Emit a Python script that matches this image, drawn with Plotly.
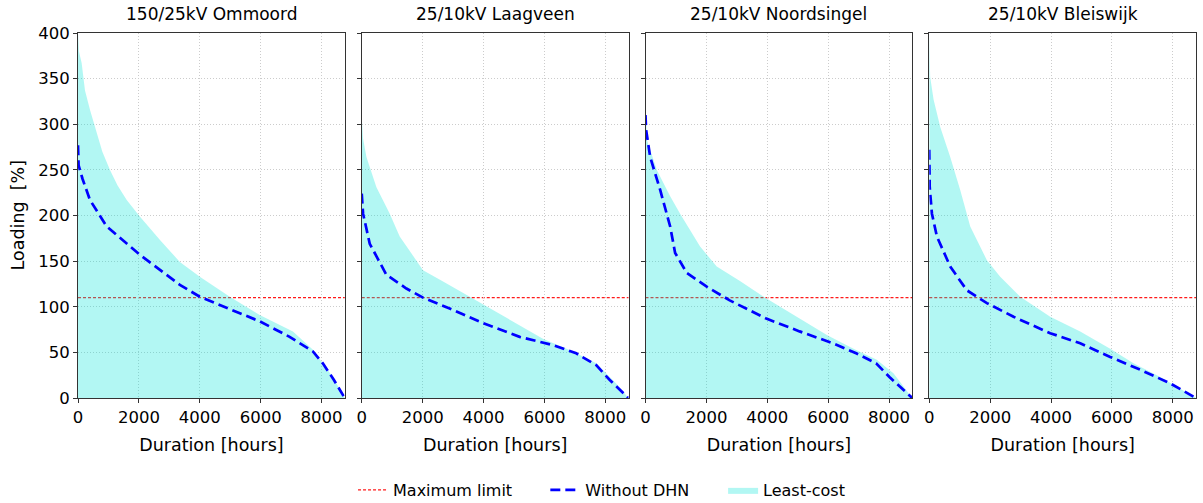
import plotly.graph_objects as go
from plotly.subplots import make_subplots

# ---------------- data ----------------
substations = ["150/25kV Ommoord", "25/10kV Laagveen", "25/10kV Noordsingel", "25/10kV Bleiswijk"]
LIMIT = 110
HOURS = 8760

lc_x_ommoord = [0, 30, 120, 230, 400, 613, 800, 1050, 1300, 1600, 2030, 2700, 3345, 4000, 4985, 5967, 7060, 7715, 8370, 8760]
lc_y_ommoord = [400, 380, 367, 337, 315, 290, 270, 250, 233, 217, 199, 173, 149, 133, 111, 91, 73, 53, 23, 0]
wo_x_ommoord = [0, 20, 150, 393, 940, 2030, 3345, 4000, 5090, 5967, 6950, 7715, 8040, 8400, 8760]
wo_y_ommoord = [277, 255, 240, 217, 188, 157, 124, 111, 96, 84, 67, 51, 38, 20, 0]

lc_x_laagveen = [0, 40, 154, 482, 920, 1247, 1600, 2012, 2700, 3435, 3981, 4965, 5950, 6935, 7700, 8355, 8760]
lc_y_laagveen = [308, 285, 264, 231, 202, 177, 160, 140, 127, 113, 102, 84, 65, 51, 38, 16, 0]
wo_x_laagveen = [0, 44, 263, 810, 1466, 2012, 2887, 3981, 5184, 6277, 7043, 7700, 8137, 8760]
wo_y_laagveen = [224, 202, 169, 135, 120, 110, 98, 82, 67, 58, 49, 36, 20, 0]

lc_x_noord = [0, 44, 372, 810, 1137, 1793, 2339, 3115, 3880, 4863, 5956, 6830, 7595, 8142, 8760]
lc_y_noord = [327, 283, 250, 221, 202, 166, 144, 128, 111, 91, 69, 54, 42, 27, 0]
wo_x_noord = [0, 20, 154, 482, 810, 973, 1356, 2011, 2765, 3967, 5060, 6153, 6918, 7574, 8011, 8760]
wo_y_noord = [310, 294, 264, 228, 188, 159, 137, 122, 107, 87, 73, 60, 49, 38, 23, 0]

lc_x_bleis = [0, 30, 142, 361, 689, 1017, 1346, 1893, 2331, 2987, 3972, 4957, 5942, 6708, 7585, 8760]
lc_y_bleis = [400, 352, 327, 297, 264, 228, 188, 151, 133, 111, 89, 73, 54, 38, 23, 0]
wo_x_bleis = [0, 15, 88, 252, 689, 1236, 1893, 2768, 3972, 4957, 5942, 6927, 7912, 8760]
wo_y_bleis = [272, 231, 202, 177, 144, 118, 104, 89, 71, 60, 45, 31, 16, 0]

least_cost = [(lc_x_ommoord, lc_y_ommoord), (lc_x_laagveen, lc_y_laagveen),
              (lc_x_noord, lc_y_noord), (lc_x_bleis, lc_y_bleis)]
without_dhn = [(wo_x_ommoord, wo_y_ommoord), (wo_x_laagveen, wo_y_laagveen),
               (wo_x_noord, wo_y_noord), (wo_x_bleis, wo_y_bleis)]

x_ticks = [0, 2000, 4000, 6000, 8000]
y_ticks = [0, 50, 100, 150, 200, 250, 300, 350, 400]

# ---------------- figure ----------------
FONT = "DejaVu Sans"
fig = make_subplots(rows=1, cols=4, shared_yaxes=True,
                    horizontal_spacing=17 / 1118,
                    subplot_titles=substations)

fill_color = "rgba(0,230,215,0.30)"

for i in range(4):
    col = i + 1
    show = i == 0
    xref = "x" if i == 0 else f"x{col}"
    yref = "y" if i == 0 else f"y{col}"
    # maximum limit drawn beneath the traces so the translucent fill covers it
    fig.add_shape(type="line", layer="below",
                  xref=f"{xref} domain", yref=yref, x0=0, x1=1, y0=LIMIT, y1=LIMIT,
                  line=dict(color="#ff1a1a", width=1.1, dash="3px,2px"),
                  name="Maximum limit", showlegend=show, legend="legend")
    lx, ly = least_cost[i]
    fig.add_trace(go.Scatter(
        x=lx, y=ly, mode="lines", fill="tozeroy", fillcolor=fill_color,
        line=dict(width=0, color=fill_color),
        name="Least-cost", legendgroup="lc", showlegend=show, legend="legend3",
        hoverinfo="skip"), row=1, col=col)
    wx, wy = without_dhn[i]
    fig.add_trace(go.Scatter(
        x=wx, y=wy, mode="lines",
        line=dict(color="blue", width=2.7, dash="10px,5px"),
        name="Without DHN", legendgroup="wo", showlegend=show, legend="legend2",
        hoverinfo="skip"), row=1, col=col)

axis_common = dict(
    showline=True, mirror=True, linecolor="#333333", linewidth=1,
    ticks="outside", ticklen=4, tickwidth=1, tickcolor="#333333",
    showgrid=True, gridcolor="#cccccc", gridwidth=0.8, griddash="1px,2px",
    zeroline=False, automargin=False,
    tickfont=dict(family=FONT, size=16.5, color="black"),
)

for i in range(4):
    col = i + 1
    fig.update_xaxes(axis_common, row=1, col=col, range=[0, HOURS],
                     tickvals=x_ticks, ticktext=[str(t) for t in x_ticks],
                     title=dict(text="Duration [hours]", standoff=12,
                                font=dict(family=FONT, size=17.5, color="black")))
    fig.update_yaxes(axis_common, row=1, col=col, range=[0, 400],
                     tickvals=y_ticks)

fig.update_yaxes(row=1, col=1, showticklabels=True)

for ann in fig.layout.annotations:
    ann.font = dict(family=FONT, size=17, color="black")
    ann.yshift = 7

fig.add_annotation(text="Loading  [%]", textangle=-90, xref="paper", yref="paper",
                   x=-0.0537, y=0.5, xanchor="center", yanchor="middle", showarrow=False,
                   font=dict(family=FONT, size=17.5, color="black"))

leg_common = dict(orientation="h", yanchor="middle", xanchor="left", y=-0.252,
                  font=dict(family=FONT, size=16, color="black"),
                  itemwidth=30, bgcolor="rgba(0,0,0,0)")

fig.update_layout(
    width=1203, height=503,
    margin=dict(l=78, r=7, t=33, b=105, autoexpand=False),
    plot_bgcolor="white", paper_bgcolor="white",
    font=dict(family=FONT, color="black"),
    hovermode=False,
    legend=dict(leg_common, x=0.246),
    legend2=dict(leg_common, x=0.418),
    legend3=dict(leg_common, x=0.577),
)

fig.write_html("out.html",
               config={"displayModeBar": False, "staticPlot": False},
               post_script="document.body.style.margin='0';document.body.style.overflow='hidden';")
